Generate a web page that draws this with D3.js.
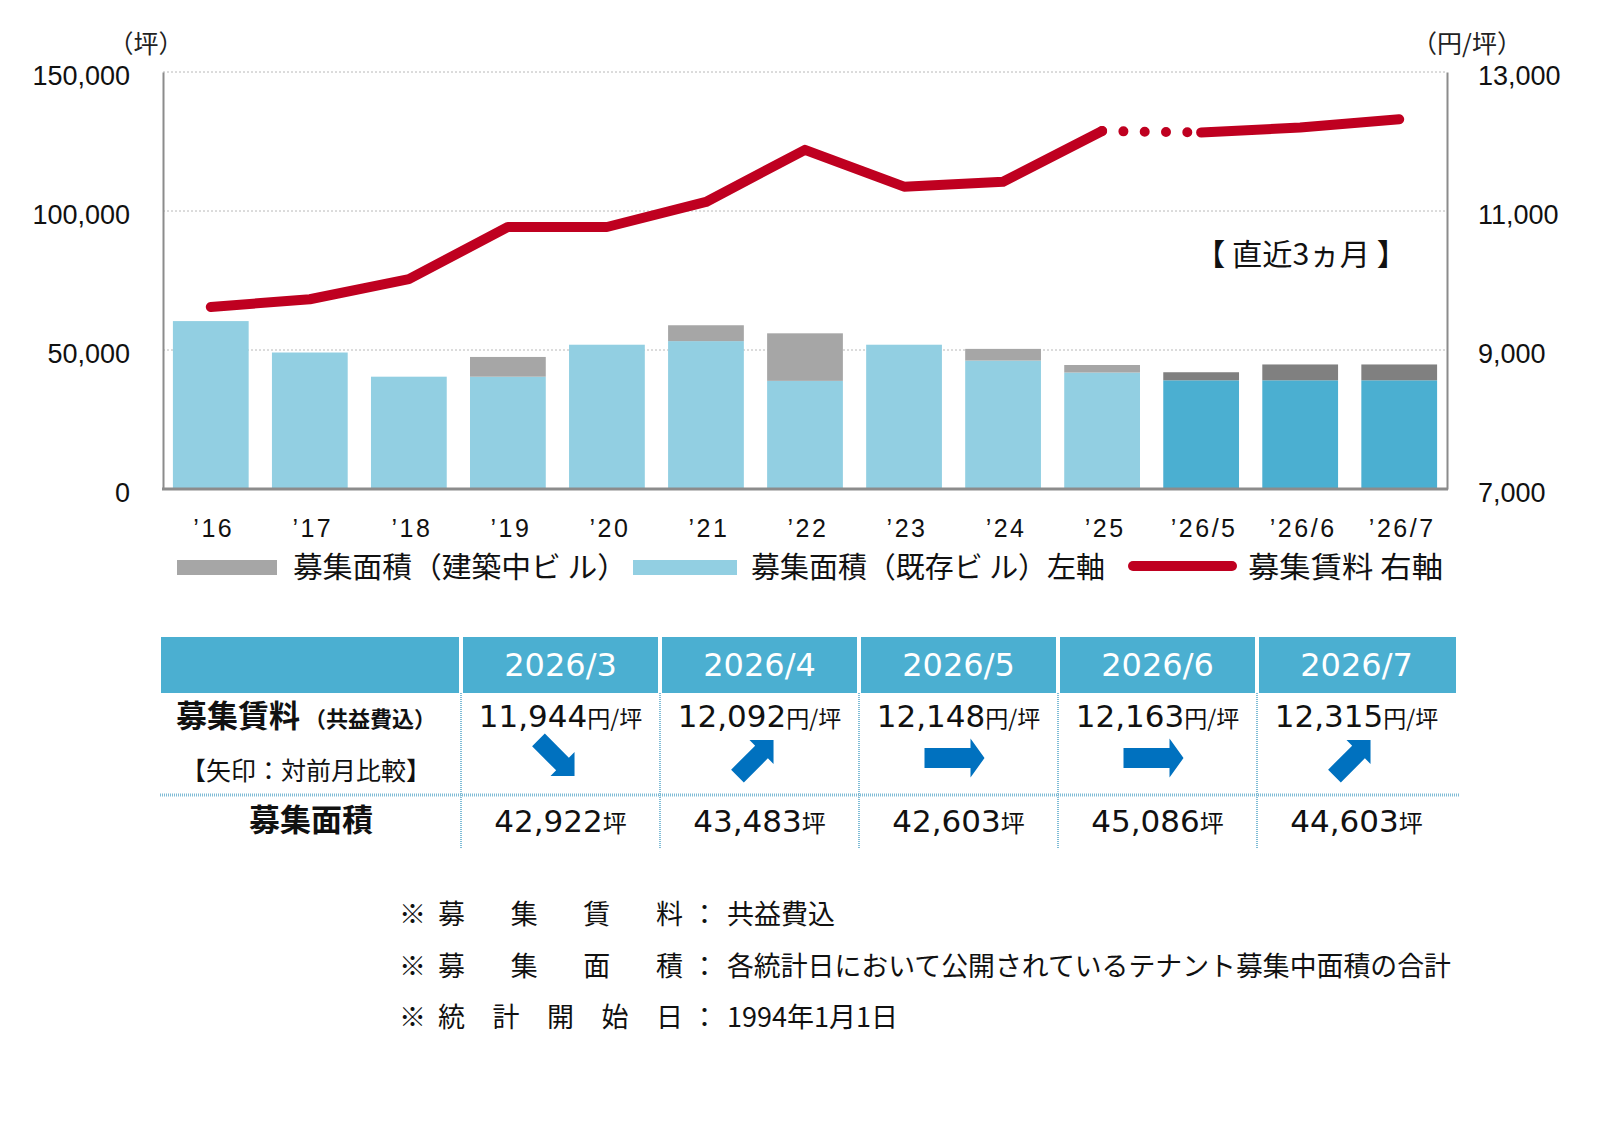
<!DOCTYPE html>
<html>
<head>
<meta charset="utf-8">
<script src="https://cdn.jsdelivr.net/npm/d3@7/dist/d3.min.js"></script>
<style>
  body { margin: 0; background: #fff; }
  svg { display: block; }
</style>
</head>
<body>
<svg id="chart" width="1620" height="1148"></svg>
<script>
// ---- chart data ----
var categories = ["’16", "’17", "’18", "’19", "’20", "’21", "’22", "’23", "’24", "’25", "’26/5", "’26/6", "’26/7"];
var existingArea = [60400, 49100, 40400, 40400, 51900, 53200, 38900, 51900, 46200, 41900, 39100, 39100, 39100];
var buildingArea = [0, 0, 0, 7100, 0, 5700, 17100, 0, 4200, 2700, 2900, 5700, 5700];
var rent = [9620, 9730, 10020, 10770, 10770, 11130, 11880, 11350, 11420, 12150, 12130, 12200, 12320];
var leftTicks = [0, 50000, 100000, 150000];
var rightTicks = [7000, 9000, 11000, 13000];
var legendLabels = ["募集面積（建築中ビ ル）", "募集面積（既存ビ ル）左軸", "募集賃料 右軸"];

// ---- table data ----
var tableMonths = ["2026/3", "2026/4", "2026/5", "2026/6", "2026/7"];
var tableRent = [11944, 12092, 12148, 12163, 12315];
var tableArea = [42922, 43483, 42603, 45086, 44603];
var rentTrend = ["down", "up", "flat", "flat", "up"];

// ---- notes ----
var noteLabels = ["募集賃料", "募集面積", "統計開始日"];
var noteTexts = ["共益費込", "各統計日において公開されているテナント募集中面積の合計", "1994年1月1日"];

var JP = "'Noto Sans CJK JP', sans-serif";
var NUM = "'Liberation Sans', Arial, sans-serif";
var VER = "'DejaVu Sans', Verdana, sans-serif";

var svg = d3.select("#chart");
svg.append("rect").attr("width", 1620).attr("height", 1148).attr("fill", "#fff");

var plotLeft = 163, plotRight = 1447, plotTop = 72, plotBottom = 489;

var x = d3.scaleBand().domain(categories).range([plotLeft, plotRight]).paddingInner(0.235).paddingOuter(0.1);
var yL = d3.scaleLinear().domain([0, 150000]).range([plotBottom, plotTop]);
var yR = d3.scaleLinear().domain([7000, 13000]).range([plotBottom, plotTop]);

//gridlines
svg.append("g").selectAll("line")
  .data(leftTicks.slice(1))
  .enter().append("line")
  .attr("x1", plotLeft).attr("x2", plotRight)
  .attr("y1", function(d){ return yL(d); })
  .attr("y2", function(d){ return yL(d); })
  .attr("stroke", "#b8b8b8")
  .attr("stroke-width", 1)
  .attr("stroke-dasharray", "2,2");

//bars
var isMonth = function(c){ return c.indexOf("/") >= 0; };
var bars = svg.append("g");
categories.forEach(function(c, i){
  bars.append("rect")
    .attr("x", x(c)).attr("width", x.bandwidth())
    .attr("y", yL(existingArea[i]))
    .attr("height", yL(0) - yL(existingArea[i]))
    .attr("fill", isMonth(c) ? "#4bafd1" : "#92cfe2");
  if (buildingArea[i] > 0) {
    bars.append("rect")
      .attr("x", x(c)).attr("width", x.bandwidth())
      .attr("y", yL(existingArea[i] + buildingArea[i]))
      .attr("height", yL(existingArea[i]) - yL(existingArea[i] + buildingArea[i]))
      .attr("fill", isMonth(c) ? "#808080" : "#a6a6a6");
  }
});

//axes
var axL = svg.append("g").attr("transform", "translate(" + plotLeft + ",0)")
  .call(d3.axisLeft(yL).tickValues(leftTicks).tickSize(0).tickPadding(33).tickFormat(d3.format(",")));
var axR = svg.append("g").attr("transform", "translate(" + plotRight + ",0)")
  .call(d3.axisRight(yR).tickValues(rightTicks).tickSize(0).tickPadding(31).tickFormat(d3.format(",")));
[axL, axR].forEach(function(a){
  a.select(".domain").attr("stroke", "#8c8c8c").attr("stroke-width", 2);
  a.selectAll("text").attr("font-family", NUM).attr("font-size", 27).attr("fill", "#111").attr("dy", "0.45em");
});

svg.append("line")
  .attr("x1", plotLeft - 1).attr("x2", plotRight + 1)
  .attr("y1", plotBottom).attr("y2", plotBottom)
  .attr("stroke", "#8c8c8c").attr("stroke-width", 3);

var axB = svg.append("g").attr("transform", "translate(0," + plotBottom + ")")
  .call(d3.axisBottom(x).tickSize(0).tickPadding(30));
axB.select(".domain").remove();
axB.selectAll("text").attr("font-family", NUM).attr("font-size", 25)
  .attr("letter-spacing", "2.5px").attr("fill", "#111").attr("dx", "3px");

//units
svg.append("text").attr("x", 146).attr("y", 53).attr("text-anchor", "middle")
  .attr("font-family", JP).attr("font-size", 25).attr("fill", "#222").text("（坪）");
svg.append("text").attr("x", 1467).attr("y", 53).attr("text-anchor", "middle")
  .attr("font-family", JP).attr("font-size", 25).attr("fill", "#222").text("（円/坪）");

//rent line
var pts = categories.map(function(c, i){ return [x(c) + x.bandwidth() / 2, yR(rent[i])]; });
var line = d3.line();
var red = "#bf0020";
function drawLine(data, dash) {
  var p = svg.append("path").attr("d", line(data))
    .attr("fill", "none").attr("stroke", red).attr("stroke-width", 10)
    .attr("stroke-linecap", "round").attr("stroke-linejoin", "round");
  if (dash) p.attr("stroke-dasharray", dash);
}
drawLine(pts.slice(0, 10));
drawLine(pts.slice(9, 11), "0,21.3");
drawLine(pts.slice(10));

svg.append("text").attr("x", 1301).attr("y", 265).attr("text-anchor", "middle")
  .attr("font-family", JP).attr("font-size", 30).attr("fill", "#111")
  .attr("textLength", 212).attr("lengthAdjust", "spacingAndGlyphs")
  .text("【 直近3ヵ月 】");

//legend
var lg = svg.append("g");
lg.append("rect").attr("x", 177).attr("y", 560).attr("width", 100).attr("height", 15).attr("fill", "#a6a6a6");
lg.append("rect").attr("x", 633).attr("y", 560).attr("width", 104).attr("height", 15).attr("fill", "#92cfe2");
lg.append("line").attr("x1", 1133).attr("x2", 1232).attr("y1", 566).attr("y2", 566)
  .attr("stroke", red).attr("stroke-width", 10).attr("stroke-linecap", "round");
var legendPos = [[293, 334], [751, 354], [1248, 195]];
legendLabels.forEach(function(t, i){
  lg.append("text").attr("x", legendPos[i][0]).attr("y", 578)
    .attr("font-family", JP).attr("font-size", 29).attr("fill", "#111")
    .attr("textLength", legendPos[i][1]).attr("lengthAdjust", "spacingAndGlyphs")
    .text(t);
});

// ---- table ----
var colEdges = [161, 461, 660, 859, 1058, 1257, 1456];
var tb = svg.append("g");
for (var c = 0; c < 6; c++) {
  tb.append("rect")
    .attr("x", colEdges[c] + (c === 0 ? 0 : 2))
    .attr("y", 637)
    .attr("width", colEdges[c + 1] - colEdges[c] - (c === 0 ? 2 : 4) + (c === 5 ? 2 : 0))
    .attr("height", 56)
    .attr("fill", "#4bafd1");
}
tb.selectAll(".vsep").data(colEdges.slice(1, 6)).enter().append("line")
  .attr("x1", function(d){ return d; }).attr("x2", function(d){ return d; })
  .attr("y1", 693).attr("y2", 849)
  .attr("stroke", "#7fbcd6").attr("stroke-width", 2).attr("stroke-dasharray", "1,1");
tb.append("line").attr("x1", 160).attr("x2", 1460).attr("y1", 795).attr("y2", 795)
  .attr("stroke", "#7fbcd6").attr("stroke-width", 3).attr("stroke-dasharray", "1,1");

var lbl = tb.append("text").attr("x", 306).attr("y", 727).attr("text-anchor", "middle")
  .attr("font-family", JP).attr("font-weight", 700).attr("fill", "#111");
lbl.append("tspan").attr("font-size", 31).text("募集賃料");
lbl.append("tspan").attr("font-size", 22).attr("dx", 4).text("（共益費込）");
tb.append("text").attr("x", 306).attr("y", 780).attr("text-anchor", "middle")
  .attr("font-family", JP).attr("font-size", 25).attr("fill", "#111").text("【矢印：対前月比較】");
tb.append("text").attr("x", 311).attr("y", 831).attr("text-anchor", "middle")
  .attr("font-family", JP).attr("font-weight", 700).attr("font-size", 31).attr("fill", "#111").text("募集面積");

var fmt = d3.format(",");
var hArrow = "M-30,-10L16,-10L16,-19.5L30,0L16,19.5L16,10L-30,10Z";
var dArrow = "M-25.5,-9L8.5,-9L8.5,-17L25.5,0L8.5,17L8.5,9L-25.5,9Z";
tableMonths.forEach(function(m, i){
  var cx = (colEdges[i + 1] + colEdges[i + 2]) / 2;
  tb.append("text").attr("x", cx).attr("y", 676).attr("text-anchor", "middle")
    .attr("font-family", VER).attr("font-size", 32).attr("fill", "#fff").text(m);

  var t1 = tb.append("text").attr("x", cx).attr("y", 727).attr("text-anchor", "middle").attr("fill", "#111");
  t1.append("tspan").attr("font-family", VER).attr("font-size", 31).text(fmt(tableRent[i]));
  t1.append("tspan").attr("font-family", JP).attr("font-size", 23).text("円/坪");

  var t2 = tb.append("text").attr("x", cx).attr("y", 832).attr("text-anchor", "middle").attr("fill", "#111");
  t2.append("tspan").attr("font-family", VER).attr("font-size", 31).text(fmt(tableArea[i]));
  t2.append("tspan").attr("font-family", JP).attr("font-size", 24).text("坪");

  var rot = rentTrend[i] === "up" ? -45 : (rentTrend[i] === "down" ? 45 : 0);
  tb.append("path")
    .attr("d", rentTrend[i] === "flat" ? hArrow : dArrow)
    .attr("transform", "translate(" + (cx - 4) + ",758) rotate(" + rot + ")")
    .attr("fill", "#0071bf");
});

// ---- notes ----
var nt = svg.append("g").attr("font-family", JP).attr("font-size", 27).attr("fill", "#111");
noteLabels.forEach(function(l, i){
  var y = 924 + i * 51.5;
  nt.append("text").attr("x", 399).attr("y", y).text("※");
  var chars = l.split("");
  var step = (656 - 438) / (chars.length - 1);
  chars.forEach(function(ch, k){
    nt.append("text").attr("x", 438 + k * step).attr("y", y).text(ch);
  });
  nt.append("text").attr("x", 691).attr("y", y).text("：");
  var tx = nt.append("text").attr("x", 727).attr("y", y).text(noteTexts[i]);
  if (i === 1) tx.attr("textLength", 724).attr("lengthAdjust", "spacingAndGlyphs");
});
</script>
</body>
</html>
